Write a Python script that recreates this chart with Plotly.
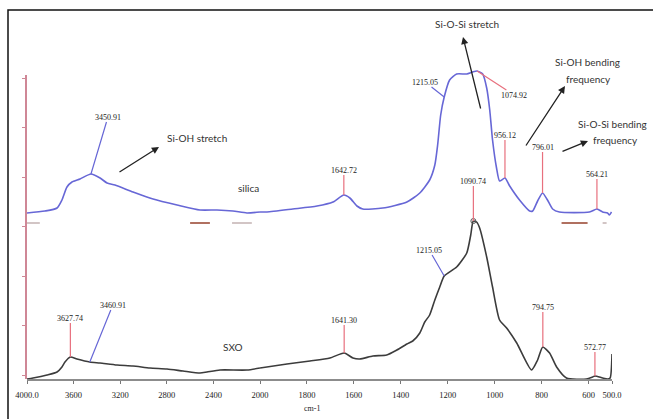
import numpy as np
import plotly.graph_objects as go

# ---------------- data ----------------
silica_wn = [4000, 3846, 3742, 3700, 3657, 3614, 3545, 3451, 3373, 3313, 3245, 3090, 2918,
             2712, 2515, 2369, 2232, 2112, 2000, 1970, 1860, 1757, 1689, 1643, 1617, 1587,
             1562, 1477, 1374, 1319, 1277, 1255, 1243, 1230, 1215, 1192, 1162, 1119, 1094,
             1075, 1051, 1034, 1021, 1009, 992, 979, 956, 936, 894, 851, 838, 817, 796, 775,
             753, 724, 596, 564, 540, 519, 511, 502]
silica_abs = [1.66, 1.68, 1.71, 1.79, 1.92, 1.97, 2.00, 2.05, 2.01, 1.96, 1.94, 1.87, 1.80,
              1.74, 1.69, 1.69, 1.68, 1.66, 1.67, 1.67, 1.70, 1.73, 1.77, 1.84, 1.81, 1.73,
              1.70, 1.71, 1.77, 1.86, 1.99, 2.14, 2.34, 2.64, 2.82, 2.99, 3.05, 3.05, 3.07,
              3.08, 3.05, 2.91, 2.69, 2.39, 2.11, 1.98, 2.01, 1.93, 1.79, 1.68, 1.68, 1.78,
              1.86, 1.79, 1.70, 1.67, 1.67, 1.70, 1.67, 1.66, 1.64, 1.67]

sxo_wn = [4000, 3948, 3828, 3742, 3700, 3674, 3628, 3571, 3461, 3373, 3227, 3090, 2944, 2798,
          2661, 2515, 2455, 2343, 2112, 2000, 1885, 1787, 1702, 1641, 1604, 1575, 1519, 1460,
          1417, 1374, 1349, 1319, 1298, 1277, 1255, 1234, 1215, 1162, 1119, 1102, 1091, 1077,
          1064, 1034, 1009, 979, 949, 906, 843, 817, 795, 766, 736, 694, 609, 583, 573, 540,
          519, 508, 500]
sxo_abs = [0.00, 0.01, 0.04, 0.07, 0.12, 0.17, 0.22, 0.20, 0.17, 0.16, 0.14, 0.13, 0.11, 0.10,
           0.08, 0.06, 0.07, 0.09, 0.09, 0.11, 0.15, 0.18, 0.21, 0.26, 0.21, 0.20, 0.23, 0.24,
           0.29, 0.35, 0.38, 0.46, 0.57, 0.64, 0.79, 0.92, 1.03, 1.12, 1.26, 1.44, 1.58, 1.57,
           1.51, 1.22, 0.92, 0.59, 0.51, 0.36, 0.09, 0.19, 0.32, 0.26, 0.12, 0.01, 0.00, 0.02,
           0.03, 0.01, 0.00, 0.01, 0.25]

silica_peaks = [3450.91, 1642.72, 1215.05, 1074.92, 956.12, 796.01, 564.21]
silica_peak_labels = ["3450.91", "1642.72", "1215.05", "1074.92", "956.12", "796.01", "564.21"]
sxo_peaks = [3627.74, 3460.91, 1641.30, 1215.05, 1090.74, 794.75, 572.77]
sxo_peak_labels = ["3627.74", "3460.91", "1641.30", "1215.05", "1090.74", "794.75", "572.77"]

x_ticks_left = [4000, 3600, 3200, 2800, 2400]
x_tick_text_left = ["4000.0", "3600", "3200", "2800", "2400"]
x_ticks_right = [2000, 1800, 1600, 1400, 1200, 1000, 800, 600, 500]
x_tick_text_right = ["2000", "1800", "1600", "1400", "1200", "1000", "800", "600", "500.0"]

baseline_marks_gray = [(4000, 3890), (2240, 2070), (540, 523)]
baseline_marks_brown = [(2600, 2430), (715, 604)]
baseline_level = 1.56

# ---------------- layout geometry ----------------
W, H = 653, 419
ML, MR, MT, MB = 27, 41, 40, 40
PW, PH = W - ML - MR, H - MT - MB
SPLIT = 233 / PW  # 4000-2000 takes this fraction, 2000-500 the rest (2x expansion)

SILICA_C = "#6767d6"
SXO_C = "#3c3c3c"
RED_C = "#e8707e"
PINK_AX = "#cf8796"
NUM_FONT = dict(family="Liberation Serif", size=8, color="#222222")
TICK_FONT = dict(family="Liberation Serif", size=8.5, color="#222222")
TXT_FONT = dict(family="Lato, Open Sans, sans-serif", size=10, color="#333333")


def pp(px, py):
    return (px - ML) / PW, (H - MB - py) / PH


def split(wn, ab):
    wn = np.asarray(wn, float)
    ab = np.asarray(ab, float)
    left = wn >= 2000
    right = wn <= 2000
    return (wn[left], ab[left]), (wn[right], ab[right])


def value_at(wn, ab, x):
    wn = np.asarray(wn, float)[::-1]
    ab = np.asarray(ab, float)[::-1]
    return float(np.interp(x, wn, ab))


fig = go.Figure()

# empty trace for the pink display axis (drawn first, underneath)
fig.add_trace(go.Scatter(x=[], y=[], xaxis="x", yaxis="y2", showlegend=False))

for wn, ab, col, name in [(silica_wn, silica_abs, SILICA_C, "silica"),
                          (sxo_wn, sxo_abs, SXO_C, "SXO")]:
    (lx, ly), (rx, ry) = split(wn, ab)
    fig.add_trace(go.Scatter(x=lx, y=ly, xaxis="x", yaxis="y", mode="lines",
                             line=dict(color=col, width=1.6, shape="spline", smoothing=0.6),
                             name=name, showlegend=False, hoverinfo="skip"))
    fig.add_trace(go.Scatter(x=rx, y=ry, xaxis="x2", yaxis="y", mode="lines",
                             line=dict(color=col, width=1.6, shape="spline", smoothing=0.6),
                             name=name, showlegend=False, hoverinfo="skip"))

# dashed baseline marks under the silica trace
for segs, col in [(baseline_marks_gray, "#cdbfbf"), (baseline_marks_brown, "#a8604f")]:
    for a, b in segs:
        axis = "x" if a >= 2000 else "x2"
        fig.add_trace(go.Scatter(x=[a, b], y=[baseline_level, baseline_level], xaxis=axis,
                                 yaxis="y", mode="lines", line=dict(color=col, width=1.8),
                                 showlegend=False, hoverinfo="skip"))

# open circle at SXO main peak apex
apex = sxo_peaks[4]
fig.add_trace(go.Scatter(x=[apex], y=[value_at(sxo_wn, sxo_abs, apex)], xaxis="x2", yaxis="y",
                         mode="markers",
                         marker=dict(symbol="circle-open", size=5, color="#555555",
                                     line=dict(width=1)),
                         showlegend=False, hoverinfo="skip"))

annotations = []

silica_leaders = [(SILICA_C, 17, -57), (RED_C, 0, -25), (SILICA_C, -19, -15), (RED_C, 37, 24),
                  (RED_C, 0, -43), (RED_C, 0, -46), (RED_C, 0, -35)]
sxo_leaders = [(RED_C, 0, -39), (SILICA_C, 23, -57), (RED_C, 0, -33), (SILICA_C, -15, -26),
               (RED_C, 0, -40), (RED_C, 0, -40), (RED_C, 0, -29)]

for peaks, labels, leaders, wn, ab in [
        (silica_peaks, silica_peak_labels, silica_leaders, silica_wn, silica_abs),
        (sxo_peaks, sxo_peak_labels, sxo_leaders, sxo_wn, sxo_abs)]:
    for p, lab, (col, ax, ay) in zip(peaks, labels, leaders):
        annotations.append(dict(
            x=p, y=value_at(wn, ab, p), xref="x" if p >= 2000 else "x2", yref="y",
            text=lab, showarrow=True, arrowhead=0, arrowwidth=1.2, arrowcolor=col,
            ax=ax, ay=ay, font=NUM_FONT, borderpad=0))

# black arrows (head, tail in pixels)
arrows = [((159, 147), (118, 173)), ((463, 37), (481, 110)),
          ((565, 86), (525, 147)), ((588, 141), (561, 152))]
for (hx, hy), (tx, ty) in arrows:
    x, y = pp(hx, hy)
    annotations.append(dict(x=x, y=y, xref="paper", yref="paper", text="", showarrow=True,
                            arrowhead=2, arrowsize=1.1, arrowwidth=1.3, arrowcolor="#222222",
                            ax=tx - hx, ay=ty - hy))

texts = [("Si-OH stretch", 197, 138), ("Si-O-Si stretch", 467, 24),
         ("Si-OH bending", 587, 62), ("frequency", 588, 79),
         ("Si-O-Si bending", 612, 124), ("frequency", 615, 140),
         ("silica", 248, 188), ("SXO", 233, 347)]
for t, px, py in texts:
    x, y = pp(px, py)
    annotations.append(dict(x=x, y=y, xref="paper", yref="paper", text=t, showarrow=False,
                            xanchor="center", yanchor="middle", font=TXT_FONT))

x, y = pp(312, 409)
annotations.append(dict(x=x, y=y, xref="paper", yref="paper", text="cm-1", showarrow=False,
                        xanchor="center", yanchor="middle", font=NUM_FONT))

# outer frame
x0, y0 = pp(8, 10)
x1, y1 = pp(670, 440)

axis_common = dict(showline=True, linecolor="#8c8c8c", linewidth=1.5, ticks="outside",
                   ticklen=3, tickcolor="#777777", showgrid=False, zeroline=False,
                   tickfont=TICK_FONT, ticklabelstandoff=4)

fig.update_layout(
    width=W, height=H, margin=dict(l=ML, r=MR, t=MT, b=MB),
    paper_bgcolor="white", plot_bgcolor="rgba(0,0,0,0)", showlegend=False,
    xaxis=dict(domain=[0, SPLIT], range=[4000, 2000], anchor="y", tickmode="array",
               tickvals=x_ticks_left, ticktext=x_tick_text_left, **axis_common),
    xaxis2=dict(domain=[SPLIT, 1], range=[2000, 500], anchor="y", tickmode="array",
                tickvals=x_ticks_right, ticktext=x_tick_text_right, **axis_common),
    yaxis=dict(domain=[0, 1], range=[0, PH / 100], visible=False, anchor="x"),
    yaxis2=dict(domain=[0, (PH - 35) / PH], range=[0, PH - 35], anchor="x",
                showline=True, linecolor=PINK_AX, linewidth=1.5, ticks="outside", ticklen=3,
                tickcolor=PINK_AX, tick0=4, dtick=49.5, showticklabels=False,
                showgrid=False, zeroline=False),
    annotations=annotations,
    shapes=[dict(type="rect", xref="paper", yref="paper", x0=x0, y0=y1, x1=x1, y1=y0,
                 line=dict(color="#111111", width=1.5), layer="above")],
)

fig.write_html("out.html", config={"displayModeBar": False},
               post_script="document.body.style.margin='0px';")
